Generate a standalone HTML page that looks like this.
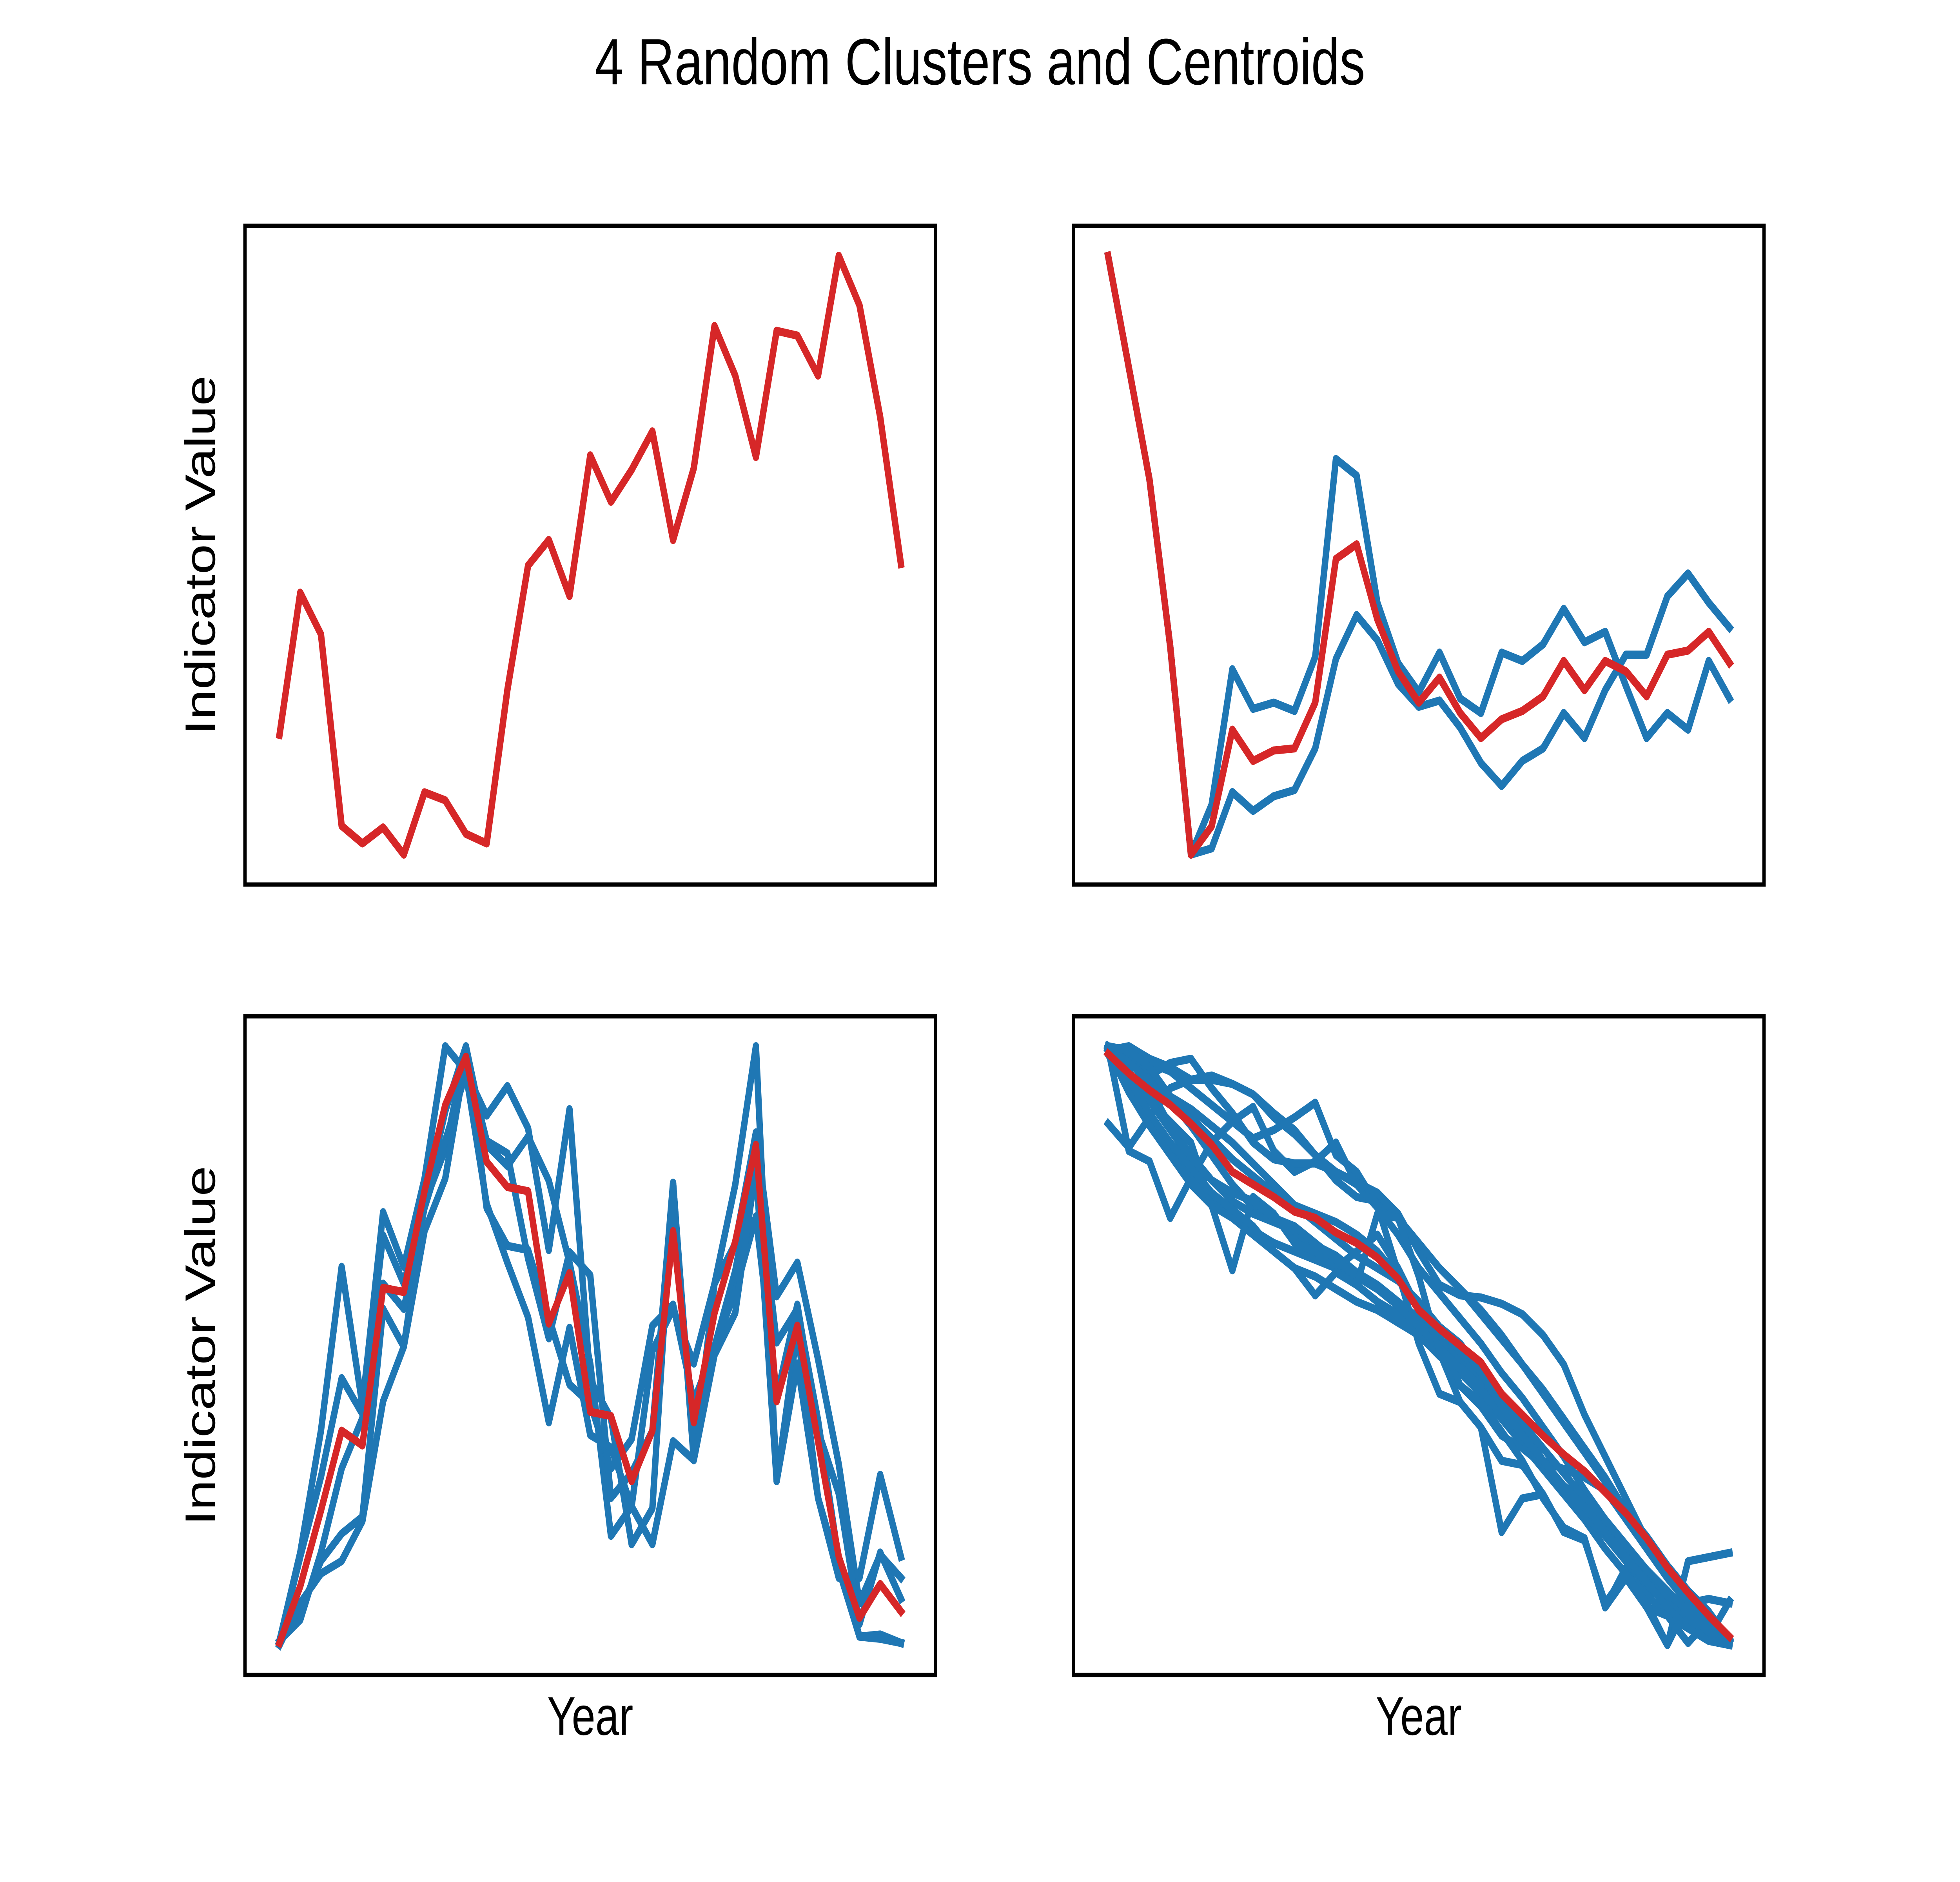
<!DOCTYPE html>
<html><head><meta charset="utf-8"><style>html,body{margin:0;padding:0;background:#fff;width:100%;height:100%;overflow:hidden}svg{display:block;position:fixed;left:0;top:0;width:100vw;height:100vh}</style></head>
<body>
<svg id="fig" xmlns="http://www.w3.org/2000/svg" viewBox="0 0 6400 4800" preserveAspectRatio="none">
<rect width="6400" height="4800" fill="#fff"/>
<text x="3200" y="171" font-family="Liberation Sans, DejaVu Sans, sans-serif" font-size="167" text-anchor="middle" dominant-baseline="middle">4 Random Clusters and Centroids</text>
<g id="plots"></g>
</svg>
<script>
// Cluster 1 (top-left): centroid only
const c1Centroid = [141,230,204,84,73,83,66,105,100,79,73,169,247,263,228,316,287,307,331,263,308,397,366,315,394,391,366,441,410,340,248];
// Cluster 2 (top-right)
const c2Centroid = [1506,1238,968,568,68,136,368,293,318,323,433,778,813,633,508,433,493,408,348,393,413,448,533,463,533,508,448,548,558,603,528];
const c2Members = [
 [1506,1238,968,568,68,188,513,418,433,413,543,1018,978,673,528,458,553,443,408,553,533,573,658,578,603,473,348,408,368,533,443],
 [1506,1238,968,568,68,83,218,173,208,223,323,538,643,583,478,423,438,373,288,233,293,323,408,348,463,548,548,688,743,673,613]
];
// Cluster 3 (bottom-left)
const c3Centroid = [73,208,388,578,543,918,908,1148,1353,1468,1218,1158,1148,833,953,623,613,458,578,1053,598,858,1028,1258,648,828,553,278,133,213,148];
const c3Members = [
 [78,288,578,968,638,1098,968,1178,1493,1433,1328,1398,1298,1008,1343,698,608,308,393,1168,508,928,1163,1493,458,818,418,228,228,473,278],
 [78,278,468,703,618,1043,928,1118,1338,1493,1258,1208,1278,1173,978,738,328,398,768,868,738,928,1023,1288,898,978,748,498,168,283,228],
 [73,148,268,333,373,868,778,1118,1248,1488,1108,1018,1008,848,688,643,488,558,828,878,648,778,958,1218,788,868,603,268,88,93,73],
 [68,168,238,268,363,648,778,1053,1178,1468,1268,1238,988,798,1003,948,418,478,578,1168,518,778,908,1088,658,878,578,428,118,288,178],
 [78,128,288,488,608,928,868,1108,1268,1428,1118,978,848,598,823,568,538,398,308,553,508,758,858,1203,458,738,418,248,88,83,73]
];
// Cluster 4 (bottom-right)
const c4Centroid = [1480,1433,1393,1358,1313,1263,1198,1168,1138,1103,1088,1053,1028,993,943,868,823,783,743,668,618,568,523,483,433,383,323,253,193,138,88];
const c4Members = [
 [1313,1256,1328,1398,1418,1428,1408,1383,1338,1298,1238,1178,1138,1128,1088,1028,968,918,868,808,738,678,608,538,468,388,318,238,168,108,78],
 [1493,1248,1223,1088,1183,1268,1318,1353,1248,1198,1223,1268,1168,1113,1048,968,908,848,788,718,658,588,518,438,368,298,238,168,128,88,173],
 [1488,1498,1468,1448,1418,1418,1408,1383,1328,1288,1238,1198,1168,1148,1098,1008,928,903,898,883,858,808,738,618,518,418,318,238,178,118,78],
 [1498,1478,1458,1438,1398,1358,1318,1278,1298,1328,1363,1238,1198,1118,958,788,668,648,588,338,418,428,338,323,158,253,158,68,268,278,288],
 [1478,1398,1318,1248,1188,1128,1088,1058,1028,1008,988,968,948,918,878,828,778,738,698,648,578,508,448,388,328,268,208,168,118,78,68],
 [1488,1388,1308,1238,1168,1118,1088,1048,1008,968,948,918,888,868,838,808,758,718,668,608,548,488,428,368,298,238,188,138,108,78,73],
 [1498,1468,1428,1458,1468,1398,1338,1268,1228,1218,1218,1198,1173,1148,1088,1028,968,918,858,798,738,668,598,528,458,388,328,258,198,148,78],
 [1493,1458,1438,1368,1308,1238,1168,1113,1088,1048,1023,998,958,928,888,848,798,758,708,648,588,508,488,468,438,368,298,228,168,108,78],
 [1493,1468,1398,1308,1238,1178,1128,1098,1078,1058,1018,968,928,888,858,808,768,688,638,568,538,498,448,408,358,298,248,188,128,78,68],
 [1488,1428,1368,1318,1268,1118,963,1138,1098,1028,1008,968,1008,1048,968,868,808,688,648,578,508,418,348,323,158,228,158,138,73,128,78],
 [1493,1438,1368,1298,1228,1178,1148,1128,1088,1068,1028,988,948,918,878,828,778,728,678,618,558,498,438,378,328,268,218,168,128,98,73],
 [1488,1418,1338,1268,1208,1148,1108,1068,1008,968,903,958,928,1098,1088,948,768,648,588,508,498,428,338,318,168,238,168,68,168,178,168],
 [1498,1458,1418,1368,1328,1278,1228,1188,1148,1118,1098,1078,1048,1008,948,878,828,768,718,668,598,538,478,418,368,308,248,198,148,98,78],
 [1498,1488,1448,1378,1348,1308,1268,1218,1168,1118,1078,1038,998,968,938,888,828,788,718,638,568,508,448,398,338,278,218,158,108,78,73]
];

const W = 2254.5, H = 1680;
const panels = [
 {name:'cluster-1', x0:800, y0:576, members:[], centroid:c1Centroid, ylab:true, xlab:false},
 {name:'cluster-2', x0:3505.5, y0:576, members:c2Members, centroid:c2Centroid, ylab:false, xlab:false},
 {name:'cluster-3', x0:800, y0:2592, members:c3Members, centroid:c3Centroid, ylab:true, xlab:true},
 {name:'cluster-4', x0:3505.5, y0:2592, members:c4Members, centroid:c4Centroid, ylab:false, xlab:true}
];
const NS = 'http://www.w3.org/2000/svg';
const root = document.getElementById('plots');
function mk(tag, attrs){const e=document.createElementNS(NS,tag);for(const k in attrs)e.setAttribute(k,attrs[k]);return e;}
panels.forEach(p=>{
  const g = mk('g',{});
  
  
  root.appendChild(g);
  const all = p.members.concat([p.centroid]);
  let mn=Infinity,mx=-Infinity,n=p.centroid.length;
  all.forEach(s=>s.forEach(v=>{mn=Math.min(mn,v);mx=Math.max(mx,v);}));
  const pad=(mx-mn)*0.05, lo=mn-pad, hi=mx+pad;
  const xs=i=>p.x0+W*(0.05+0.9*i/(n-1));
  const ys=v=>p.y0+H*(1-(v-lo)/(hi-lo));
  const pts=s=>s.map((v,i)=>xs(i).toFixed(1)+','+ys(v).toFixed(1)).join(' ');
  p.members.forEach((s,k)=>{
    const l=mk('polyline',{points:pts(s),fill:'none',stroke:'#1f77b4','stroke-width':20.8,'stroke-linejoin':'round','stroke-linecap':'square'});
    
    
    g.appendChild(l);
  });
  const c=mk('polyline',{points:pts(p.centroid),fill:'none',stroke:'#d62728','stroke-width':20.8,'stroke-linejoin':'round','stroke-linecap':'square'});
  
  
  g.appendChild(c);
  const fr=mk('rect',{x:p.x0,y:p.y0,width:W,height:H,fill:'none',stroke:'#000','stroke-width':11});
  
  
  g.appendChild(fr);
  if(p.ylab){
    const t=mk('text',{x:0,y:0,transform:'translate(665,'+(p.y0+H/2)+') rotate(-90)','font-family':'Liberation Sans, DejaVu Sans, sans-serif','font-size':139,'text-anchor':'middle','dominant-baseline':'middle'});
    t.textContent='Indicator Value';
    
    
    g.appendChild(t);
  }
  if(p.xlab){
    const t=mk('text',{x:p.x0+W/2,y:4388,'font-family':'Liberation Sans, DejaVu Sans, sans-serif','font-size':139,'text-anchor':'middle','dominant-baseline':'middle'});
    t.textContent='Year';
    
    
    g.appendChild(t);
  }
});
</script>
</body></html>
